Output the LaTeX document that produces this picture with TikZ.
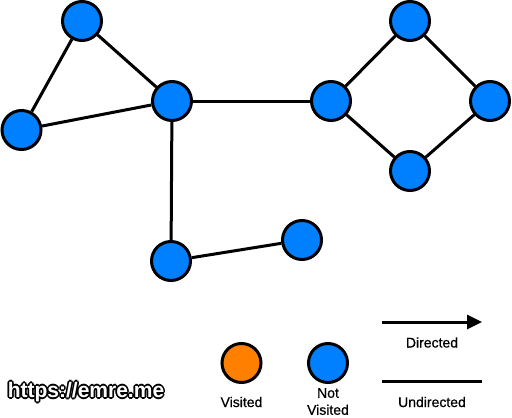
\documentclass[tikz,border=0pt]{standalone}
\usepackage{fontspec}
\setmainfont{Liberation Sans}
\newfontfamily\lblfont[FakeBold=0.6]{Liberation Sans}
\usetikzlibrary{arrows.meta}
\definecolor{nodeblue}{RGB}{0,128,255}
\definecolor{nodeorange}{RGB}{255,128,0}
\tikzset{
  vert/.style={circle,draw=black,line width=3pt,fill=nodeblue,minimum size=39pt,inner sep=0pt},
  visited/.style={vert,fill=nodeorange},
  edge/.style={line width=3pt,draw=black},
  lbl/.style={font=\lblfont\fontsize{14}{17}\selectfont,align=center,inner sep=0pt},
  wm/.style={font=\fontsize{21}{21}\selectfont\bfseries,inner sep=0pt}
}
\begin{document}
\begin{tikzpicture}[x=1pt,y=-1pt]
\useasboundingbox[fill=white] (0,0) rectangle (512,418);
\node[vert] (a) at (82,21) {};
\node[vert] (b) at (21.5,130) {};
\node[vert] (c) at (172,101) {};
\node[vert] (d) at (331,101) {};
\node[vert] (e) at (410,21) {};
\node[vert] (f) at (490,101) {};
\node[vert] (g) at (410,171) {};
\node[vert] (h) at (171,261) {};
\node[vert] (i) at (302,240) {};
\draw[edge] (a) -- (b);
\draw[edge] (a) -- (c);
\draw[edge] (b) -- (c);
\draw[edge] (c) -- (d);
\draw[edge] (c) -- (h);
\draw[edge] (h) -- (i);
\draw[edge] (d) -- (e);
\draw[edge] (e) -- (f);
\draw[edge] (f) -- (g);
\draw[edge] (g) -- (d);
% legend
\node[visited] (lv) at (241.5,363) {};
\node[vert] (ln) at (328,363) {};
\node[lbl] (tv) at (241.5,402) {Visited};
\node[lbl] (tn) at (328,401.5) {Not\\Visited};
\coordinate (d1) at (382,322);
\coordinate (d2) at (482,322);
\draw[line width=3pt,-{Triangle[length=15pt,width=14pt]}] (d1) -- (d2);
\node[lbl] (td) at (432,342.5) {Directed};
\coordinate (u1) at (382,381);
\coordinate (u2) at (482,381);
\draw[line width=3pt] (u1) -- (u2);
\node[lbl] (tu) at (432,402) {Undirected};
% watermark (black outline under white text)
\foreach \dx/\dy in {-1.6/0,1.6/0,0/-1.6,0/1.6,-1.2/-1.2,1.2/1.2,-1.2/1.2,1.2/-1.2}{
  \node[wm,text=black] at (86+\dx,392+\dy) {https://emre.me};
}
\node[wm,text=white] (wmk) at (86,392) {https://emre.me};
\end{tikzpicture}
\end{document}
